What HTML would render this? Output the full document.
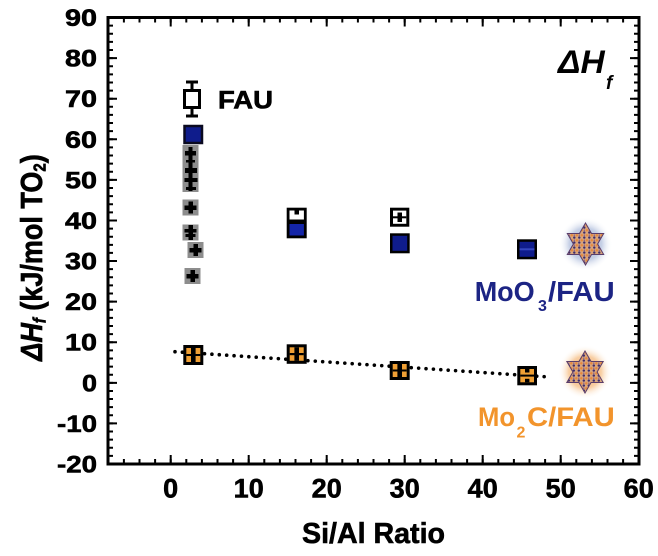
<!DOCTYPE html>
<html>
<head>
<meta charset="utf-8">
<style>
html,body{margin:0;padding:0;background:#fff;}
svg{display:block;}
text{font-family:"Liberation Sans",Arial,sans-serif;font-weight:bold;}
.hv{stroke:#000;stroke-width:0.6;}
</style>
</head>
<body>
<svg width="658" height="556" viewBox="0 0 658 556" xmlns="http://www.w3.org/2000/svg">
<defs>
  <pattern id="dots" patternUnits="userSpaceOnUse" width="5" height="5">
    <rect width="5" height="5" fill="#d8a47c"/>
    <circle cx="1.3" cy="1.3" r="1.2" fill="#e8883a"/>
    <circle cx="3.8" cy="3.6" r="1.2" fill="#3b2c6e"/>
    <circle cx="3.8" cy="1.2" r="0.7" fill="#7a5a8a"/>
  </pattern>
  <radialGradient id="haloB">
    <stop offset="0" stop-color="#9fb0d2"/>
    <stop offset="0.6" stop-color="#c6d0e6"/>
    <stop offset="1" stop-color="#ffffff" stop-opacity="0"/>
  </radialGradient>
  <radialGradient id="haloO">
    <stop offset="0" stop-color="#f3a860"/>
    <stop offset="0.6" stop-color="#f8cfa4"/>
    <stop offset="1" stop-color="#ffffff" stop-opacity="0"/>
  </radialGradient>
</defs>

<!-- axis frame -->
<rect x="108" y="17.5" width="531" height="446.5" fill="none" stroke="#000" stroke-width="3"/>

<!-- ticks -->
<g stroke="#000" fill="none">
  <line x1="110.5" y1="465" x2="110.5" y2="16" stroke-width="5" stroke-dasharray="2 6.118"/>
  <line x1="112.5" y1="465" x2="112.5" y2="16" stroke-width="9" stroke-dasharray="2 38.59"/>
  <line x1="636.5" y1="465" x2="636.5" y2="16" stroke-width="5" stroke-dasharray="2 6.118"/>
  <line x1="634.5" y1="465" x2="634.5" y2="16" stroke-width="9" stroke-dasharray="2 38.59"/>
  <line x1="107.3" y1="461.5" x2="640" y2="461.5" stroke-width="5" stroke-dasharray="2 13.6"/>
  <line x1="169.7" y1="459.5" x2="640" y2="459.5" stroke-width="9" stroke-dasharray="2 76"/>
  <line x1="107.3" y1="20" x2="640" y2="20" stroke-width="5" stroke-dasharray="2 13.6"/>
  <line x1="169.7" y1="22" x2="640" y2="22" stroke-width="9" stroke-dasharray="2 76"/>
</g>

<!-- y tick labels -->
<g font-size="24" text-anchor="end" fill="#000" class="hv">
  <text x="97" y="26" textLength="32" lengthAdjust="spacingAndGlyphs">90</text>
  <text x="97" y="66.6" textLength="32" lengthAdjust="spacingAndGlyphs">80</text>
  <text x="97" y="107.2" textLength="32" lengthAdjust="spacingAndGlyphs">70</text>
  <text x="97" y="147.8" textLength="32" lengthAdjust="spacingAndGlyphs">60</text>
  <text x="97" y="188.4" textLength="32" lengthAdjust="spacingAndGlyphs">50</text>
  <text x="97" y="228.9" textLength="32" lengthAdjust="spacingAndGlyphs">40</text>
  <text x="97" y="269.5" textLength="32" lengthAdjust="spacingAndGlyphs">30</text>
  <text x="97" y="310.1" textLength="32" lengthAdjust="spacingAndGlyphs">20</text>
  <text x="97" y="350.7" textLength="32" lengthAdjust="spacingAndGlyphs">10</text>
  <text x="97" y="391.3" textLength="15" lengthAdjust="spacingAndGlyphs">0</text>
  <text x="97" y="431.9" textLength="40" lengthAdjust="spacingAndGlyphs">-10</text>
  <text x="97" y="472.5" textLength="40" lengthAdjust="spacingAndGlyphs">-20</text>
</g>

<!-- x tick labels -->
<g font-size="27" text-anchor="middle" fill="#000" class="hv">
  <text x="170.7" y="497.5">0</text>
  <text x="248.7" y="497.5">10</text>
  <text x="326.7" y="497.5">20</text>
  <text x="404.7" y="497.5">30</text>
  <text x="482.7" y="497.5">40</text>
  <text x="560.7" y="497.5">50</text>
  <text x="638.7" y="497.5">60</text>
</g>

<!-- axis titles -->
<text x="302" y="543" font-size="29" textLength="143" lengthAdjust="spacingAndGlyphs" class="hv">Si/Al Ratio</text>
<g transform="translate(42,257.5) scale(1.14,1) rotate(-90)">
  <text x="0" y="0" font-size="27" text-anchor="middle" class="hv"><tspan font-style="italic">ΔH</tspan><tspan font-style="italic" font-size="15" dy="3">f</tspan><tspan dy="-3"> (kJ/mol TO</tspan><tspan font-size="15" dy="3">2</tspan><tspan dy="-3">)</tspan></text>
</g>

<!-- dotted fit line -->
<line x1="175" y1="351.7" x2="545" y2="376.7" stroke="#000" stroke-width="3.6" stroke-linecap="round" stroke-dasharray="0 7.4"/>

<!-- gray squares with crosses -->
<g>
  <rect x="182.5" y="145" width="16" height="47" fill="#8d8d8d"/>
  <rect x="188.5" y="147" width="4" height="44" fill="#000"/>
  <rect x="185" y="151" width="11" height="4.5" fill="#000"/>
  <rect x="186" y="160" width="9" height="2.5" fill="#000"/>
  <rect x="185" y="168" width="12" height="5" fill="#000"/>
  <rect x="184.5" y="178" width="13" height="4" fill="#000"/>
  <rect x="186" y="187" width="10" height="3" fill="#000"/>

  <rect x="182.5" y="199.5" width="16" height="16" fill="#8d8d8d"/>
  <rect x="188.5" y="201.5" width="4.5" height="12" fill="#000"/>
  <rect x="184.5" y="205.5" width="12" height="4.5" fill="#000"/>

  <rect x="182.5" y="224.5" width="16" height="16" fill="#8d8d8d"/>
  <rect x="188.5" y="225" width="4.5" height="15" fill="#000"/>
  <rect x="184.5" y="229" width="12" height="3.5" fill="#000"/>
  <rect x="185.5" y="234" width="10" height="3" fill="#000"/>

  <rect x="187.5" y="242" width="16" height="16" fill="#8d8d8d"/>
  <rect x="193.5" y="244" width="4.5" height="12" fill="#000"/>
  <rect x="189.5" y="248" width="12" height="4.5" fill="#000"/>

  <rect x="184.5" y="268" width="16" height="16" fill="#8d8d8d"/>
  <rect x="190.5" y="270" width="4.5" height="12" fill="#000"/>
  <rect x="186.5" y="274" width="12" height="4.5" fill="#000"/>
</g>

<!-- FAU open square with error bar -->
<g stroke="#000" stroke-width="3" fill="none">
  <line x1="192" y1="82" x2="192" y2="90"/>
  <line x1="192" y1="108" x2="192" y2="116"/>
  <line x1="186" y1="82" x2="198" y2="82"/>
  <line x1="186" y1="116" x2="198" y2="116"/>
  <rect x="184.5" y="90.5" width="15" height="17" fill="#fff"/>
</g>
<text x="218" y="108.3" font-size="25" textLength="55" lengthAdjust="spacingAndGlyphs" class="hv">FAU</text>

<!-- blue square at 61 -->
<rect x="184.5" y="126" width="17.5" height="17" fill="#0f1c8c" stroke="#0a0a20" stroke-width="2.5"/>

<!-- x=16 combined open + blue -->
<rect x="286.7" y="207.7" width="20" height="30.6" fill="#000"/>
<rect x="289.5" y="210.5" width="14.4" height="9" fill="#fff"/>
<rect x="294.5" y="210.5" width="4.5" height="4" fill="#000"/>
<rect x="289.5" y="224" width="14.4" height="11.5" fill="#1425a8"/>

<!-- x=29 open -->
<rect x="390" y="207.7" width="19.3" height="19" fill="#000"/>
<rect x="393" y="210.6" width="13.3" height="13.2" fill="#fff"/>
<rect x="397.5" y="212.5" width="4.5" height="9.5" fill="#000"/>
<rect x="393" y="216.3" width="13.3" height="2" fill="#000"/>
<!-- x=29 blue -->
<rect x="390" y="233.3" width="19.7" height="20" fill="#000"/>
<rect x="392.5" y="235.8" width="14.7" height="15" fill="#0f1c8c"/>
<!-- x=45.5 blue -->
<rect x="517" y="239.3" width="20" height="20" fill="#000"/>
<rect x="519.5" y="241.8" width="15" height="15" fill="#0f1c8c"/>
<rect x="519.5" y="248.3" width="15" height="2" fill="#3446c0"/>

<!-- orange markers -->
<g>
  <rect x="183.3" y="345" width="20" height="20" fill="#000"/>
  <rect x="186.3" y="348" width="14" height="14" fill="#f0a035"/>
  <rect x="191" y="348" width="4.6" height="14" fill="#000"/>
  <rect x="186.3" y="354" width="14" height="2" fill="#000"/>

  <rect x="286.7" y="344.3" width="20" height="19.5" fill="#000"/>
  <rect x="289.7" y="347.3" width="14" height="13.5" fill="#f0a035"/>
  <rect x="294.4" y="347.3" width="4.6" height="13.5" fill="#000"/>
  <rect x="289.7" y="353" width="14" height="2.2" fill="#000"/>

  <rect x="389.7" y="361" width="20" height="19" fill="#000"/>
  <rect x="392.7" y="364" width="14" height="13" fill="#f0a035"/>
  <rect x="397.4" y="364" width="4.6" height="13" fill="#000"/>
  <rect x="392.7" y="369.5" width="14" height="2" fill="#000"/>

  <rect x="517.3" y="366" width="19.7" height="19.3" fill="#000"/>
  <rect x="520.3" y="369" width="13.7" height="13.3" fill="#f0a035"/>
  <rect x="525" y="369" width="4.4" height="3.5" fill="#000"/>
  <rect x="525" y="378.8" width="4.4" height="3.5" fill="#000"/>
  <rect x="520.3" y="374.6" width="13.7" height="2" fill="#000"/>
</g>

<!-- zeolite icons -->
<g transform="translate(585.5,244)">
  <circle r="27" fill="url(#haloB)"/>
  <polygon points="0,-21 6.05,-10.48 18.19,-10.5 12.1,0 18.19,10.5 6.05,10.48 0,21 -6.05,10.48 -18.19,10.5 -12.1,0 -18.19,-10.5 -6.05,-10.48" fill="url(#dots)" stroke="#5a3d6a" stroke-width="1"/>
</g>
<g transform="translate(585,372)">
  <circle r="27" fill="url(#haloO)"/>
  <polygon points="0,-21 6.05,-10.48 18.19,-10.5 12.1,0 18.19,10.5 6.05,10.48 0,21 -6.05,10.48 -18.19,10.5 -12.1,0 -18.19,-10.5 -6.05,-10.48" fill="url(#dots)" stroke="#5a3d6a" stroke-width="1"/>
</g>

<!-- ΔHf label -->
<text x="558" y="73" font-size="32" font-style="italic" textLength="46.7" lengthAdjust="spacingAndGlyphs">ΔH</text>
<text x="606" y="89" font-size="19" font-style="italic">f</text>

<!-- MoO3/FAU -->
<g fill="#1c2484">
  <text x="474.7" y="301" font-size="28" textLength="60" lengthAdjust="spacingAndGlyphs">MoO</text>
  <text x="538" y="311" font-size="16">3</text>
  <text x="548" y="301" font-size="28" textLength="66.7" lengthAdjust="spacingAndGlyphs">/FAU</text>
</g>

<!-- Mo2C/FAU -->
<g fill="#f2942c">
  <text x="478" y="426" font-size="27" textLength="37" lengthAdjust="spacingAndGlyphs">Mo</text>
  <text x="516.5" y="437.7" font-size="16">2</text>
  <text x="527" y="426" font-size="27" textLength="87.7" lengthAdjust="spacingAndGlyphs">C/FAU</text>
</g>
</svg>
</body>
</html>
